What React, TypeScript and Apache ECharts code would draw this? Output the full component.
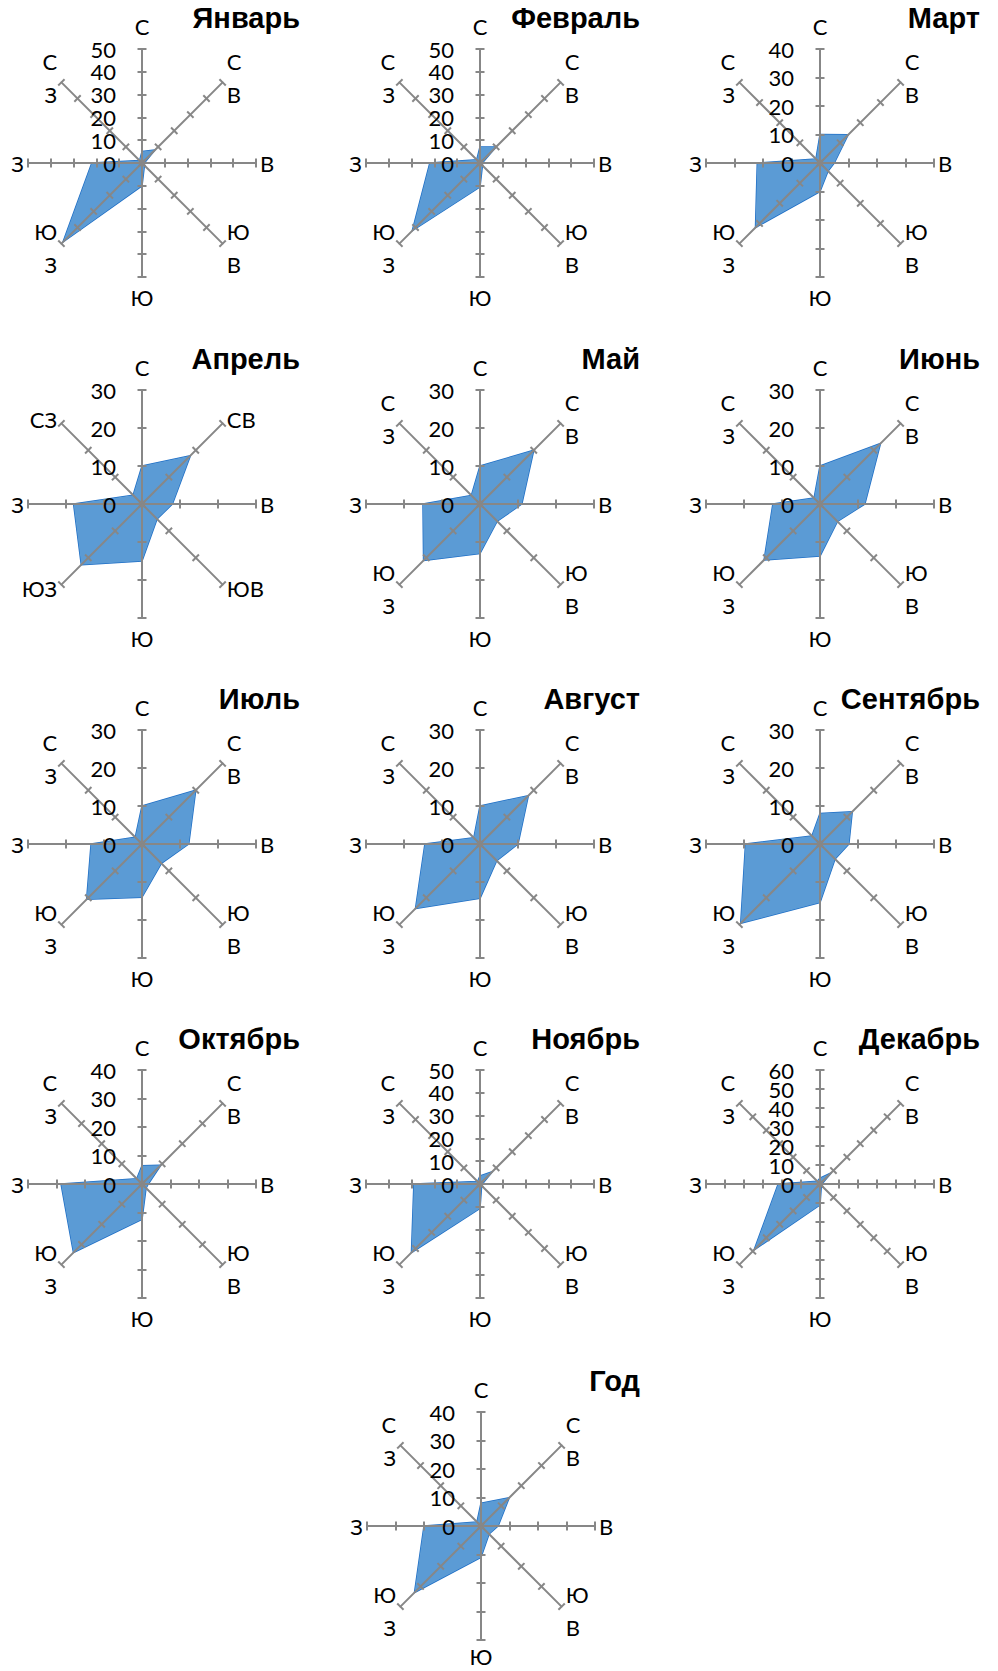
import React, { useEffect, useRef } from 'react';
import * as echarts from 'echarts';

// Compass directions, clockwise from north: С, СВ, В, ЮВ, Ю, ЮЗ, З, СЗ
const DIRECTIONS_WRAPPED = ['С', 'С\nВ', 'В', 'Ю\nВ', 'Ю', 'Ю\nЗ', 'З', 'С\nЗ'];
const DIRECTIONS_SHORT = ['С', 'СВ', 'В', 'ЮВ', 'Ю', 'ЮЗ', 'З', 'СЗ'];

const TITLES = [
  'Январь', 'Февраль', 'Март', 'Апрель', 'Май', 'Июнь',
  'Июль', 'Август', 'Сентябрь', 'Октябрь', 'Ноябрь', 'Декабрь', 'Год',
];

// axis maximum of each rose (ticks every 10)
const AXIS_MAX = [50, 50, 40, 30, 30, 30, 30, 30, 30, 40, 50, 60, 40];
const TICK_STEP = 10;

// repeatability of wind directions, %, clockwise from north
const jan = [5, 8, 1, 1.5, 10, 49, 22, 1.5];
const feb = [7, 10, 1, 1.5, 10.5, 42, 22, 2];
const mar = [10, 14, 5, 4, 10, 32, 22, 2];
const apr = [10, 18, 8, 5.6, 15, 22.6, 18, 3.3];
const may = [10, 20, 11, 6.4, 13, 21, 15, 3.2];
const jun = [10, 22.5, 11.8, 6.5, 13.7, 20.8, 12.4, 2.2];
const jul = [10, 20, 12.3, 7.2, 14, 20.6, 13.4, 2.5];
const aug = [10, 18, 10, 6.2, 14.3, 24, 14.5, 2.3];
const sep = [8, 12, 7.6, 5.6, 15.4, 29.5, 19.6, 3];
const oct = [6.4, 9.3, 2.2, 2, 12.4, 34, 28.4, 2.6];
const nov = [3.5, 7.6, 1, 1, 10.7, 42.5, 29, 1.5];
const dec = [3, 8.2, 1, 1, 11, 49, 22, 2];
const year = [8, 14, 6, 4, 11, 33, 20, 2];

const SERIES = [jan, feb, mar, apr, may, jun, jul, aug, sep, oct, nov, dec, year];

// layout
const COL_X = [142, 480, 820];
const ROW_Y = [163, 504, 844, 1184, 1526];
const TITLE_RIGHT = [300, 640, 980];
const RADIUS = 114;
const W = 998;
const H = 1671;

// ECharts places radar indicators counter-clockwise
const CCW = [0, 7, 6, 5, 4, 3, 2, 1];

const AXIS_COLOR = '#878787';
const FILL = '#5B9BD5';
const EDGE = '#1F6FC6';

function nameStyle(k: number, isYear: boolean) {
  // k: compass index (0 = N, 2 = E, 4 = S, 6 = W)
  if (k === 0) return { nameGap: 15, nameTextStyle: { lineHeight: 16 } };
  if (k === 4) return { nameGap: isYear ? 8 : 12, nameTextStyle: { lineHeight: 16 } };
  if (k === 2 || k === 6) return { nameGap: 4, nameTextStyle: { lineHeight: 24 } };
  return { nameGap: 6 };
}

const LABEL_STYLE = {
  margin: 26,
  color: '#000',
  fontSize: 22,
  lineHeight: 14,
  fontFamily: 'Lato',
  interval: 0,
  showMinLabel: true,
  showMaxLabel: true,
  hideOverlap: false,
};

// even steps (0, 20, 40...) on the main radar, odd steps (10, 30...) on the overlay one
const evenLabel = (v: number) => (Math.round(v / TICK_STEP) % 2 === 0 ? String(v) : '');
const oddLabel = (v: number) => (Math.round(v / TICK_STEP) % 2 === 1 ? String(v) : '');

export default function App() {
  const ref = useRef<HTMLDivElement>(null);

  useEffect(() => {
    if (!ref.current) return;
    const chart = echarts.init(ref.current, undefined, { renderer: 'svg' });

    const radars: any[] = [];
    const tickRadars: any[] = [];
    const series: any[] = [];
    const titles: any[] = [];

    SERIES.forEach((vals, i) => {
      const isYear = i === 12;
      const col = isYear ? 1 : i % 3;
      const row = Math.floor(i / 3);
      const cx = isYear ? 481 : COL_X[col];
      const cy = ROW_Y[row];
      const max = AXIS_MAX[i];
      const names = i === 3 ? DIRECTIONS_SHORT : DIRECTIONS_WRAPPED;

      const indicator = CCW.map((k, j) => {
        const base: any = { name: names[k], min: 0, max, ...nameStyle(k, isYear) };
        if (j === 0) base.axisLabel = { show: true };
        return base;
      });
      const tickIndicator = CCW.map((k, j) => {
        const base: any = { name: names[k], min: 0, max };
        if (j === 0) base.axisLabel = { show: true };
        return base;
      });

      radars.push({
        center: [cx, cy],
        radius: RADIUS,
        startAngle: 90,
        splitNumber: max / TICK_STEP,
        shape: 'polygon',
        z: 3,
        indicator,
        axisName: {
          show: true,
          color: '#000',
          fontSize: 22,
          fontFamily: 'Lato',
          lineHeight: 33,
        },
        axisNameGap: 6,
        axisLine: { show: true, lineStyle: { color: AXIS_COLOR, width: 2 } },
        axisTick: { show: true, length: 4.5, lineStyle: { color: AXIS_COLOR, width: 2 } },
        axisLabel: { show: false, ...LABEL_STYLE, formatter: evenLabel },
        splitLine: { show: false },
        splitArea: { show: false },
      });

      tickRadars.push({
        center: [cx, cy],
        radius: RADIUS,
        startAngle: 90,
        splitNumber: max / TICK_STEP,
        shape: 'polygon',
        z: 3,
        indicator: tickIndicator,
        axisName: { show: false },
        axisLine: { show: false },
        axisTick: { show: true, length: -4.5, lineStyle: { color: AXIS_COLOR, width: 2 } },
        axisLabel: { show: false, ...LABEL_STYLE, formatter: oddLabel },
        splitLine: { show: false },
        splitArea: { show: false },
      });

      series.push({
        type: 'radar',
        radarIndex: i,
        z: 1,
        symbol: 'none',
        silent: true,
        lineStyle: { color: EDGE, width: 1.5 },
        areaStyle: { color: FILL, opacity: 1 },
        data: [{ value: CCW.map((k) => vals[k]) }],
      });

      titles.push({
        text: TITLES[i],
        right: W - TITLE_RIGHT[col],
        top: cy - 145 - 14.5,
        padding: 0,
        textStyle: {
          fontFamily: 'Liberation Sans',
          fontWeight: 'bold',
          fontSize: 29,
          lineHeight: 29,
          color: '#000',
        },
      });
    });

    chart.setOption({
      animation: false,
      backgroundColor: '#fff',
      title: titles,
      radar: [...radars, ...tickRadars],
      series,
    });

    return () => chart.dispose();
  }, []);

  return (
    <div
      ref={ref}
      style={{ position: 'absolute', left: 0, top: 0, width: W, height: H }}
    />
  );
}
